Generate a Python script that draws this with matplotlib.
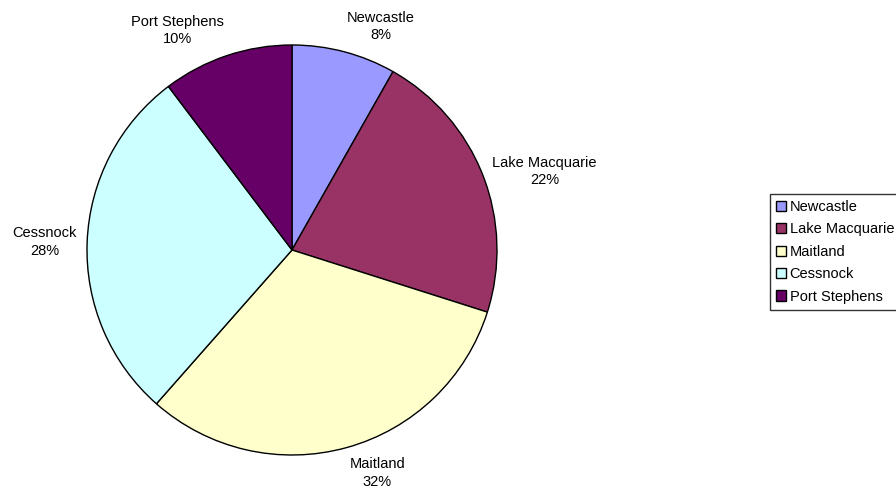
import numpy as np
import matplotlib
matplotlib.use("Agg")
import matplotlib.pyplot as plt
import matplotlib.patches as mpatches

plt.rcParams['font.family'] = ['Liberation Sans', 'DejaVu Sans']

# data
regions = ['Newcastle', 'Lake Macquarie', 'Maitland', 'Cessnock', 'Port Stephens']
shares = [8.2, 21.7, 31.6, 28.2, 10.3]
colors = ['#9999FF', '#993366', '#FFFFCC', '#CCFFFF', '#660066']

W, H = 896, 494
fig = plt.figure(figsize=(W / 100, H / 100), dpi=100)

# pie centre (292, 250) px, radius 205 px
cx, cy, r = 292, 250, 205
ax = fig.add_axes([(cx - r) / W, (H - cy - r) / H, 2 * r / W, 2 * r / H])

wedges, _ = ax.pie(shares, colors=colors, startangle=90, counterclock=False,
                   wedgeprops=dict(edgecolor='black', linewidth=1.0))
ax.set_xlim(-1, 1)
ax.set_ylim(-1, 1)
ax.set_aspect('equal')
ax.axis('off')

total = sum(shares)
for w, name, val in zip(wedges, regions, shares):
    mid = np.deg2rad((w.theta1 + w.theta2) / 2)
    x, y = np.cos(mid), np.sin(mid)
    ha = 'left' if x > 0.2 else ('right' if x < -0.2 else 'center')
    va = 'bottom' if y > 0.5 else ('top' if y < -0.5 else 'center')
    ax.text(1.05 * x, 1.05 * y, f"{name}\n{round(val / total * 100):.0f}%",
            ha=ha, va=va, multialignment='center', fontsize=10.5,
            linespacing=1.3, clip_on=False)

handles = [mpatches.Patch(facecolor=c, edgecolor='black', linewidth=1.0, label=n)
           for n, c in zip(regions, colors)]
leg = fig.legend(handles=handles, loc='upper left',
                 bbox_to_anchor=(770 / W, 1 - 194 / H), borderaxespad=0,
                 fontsize=10.5, frameon=True, fancybox=False, edgecolor='black',
                 handlelength=0.7, handleheight=0.7, handletextpad=0.25,
                 labelspacing=0.58, borderpad=0.4)
leg.get_frame().set_linewidth(1.0)

fig.savefig('out.png', dpi=100, facecolor='white')
